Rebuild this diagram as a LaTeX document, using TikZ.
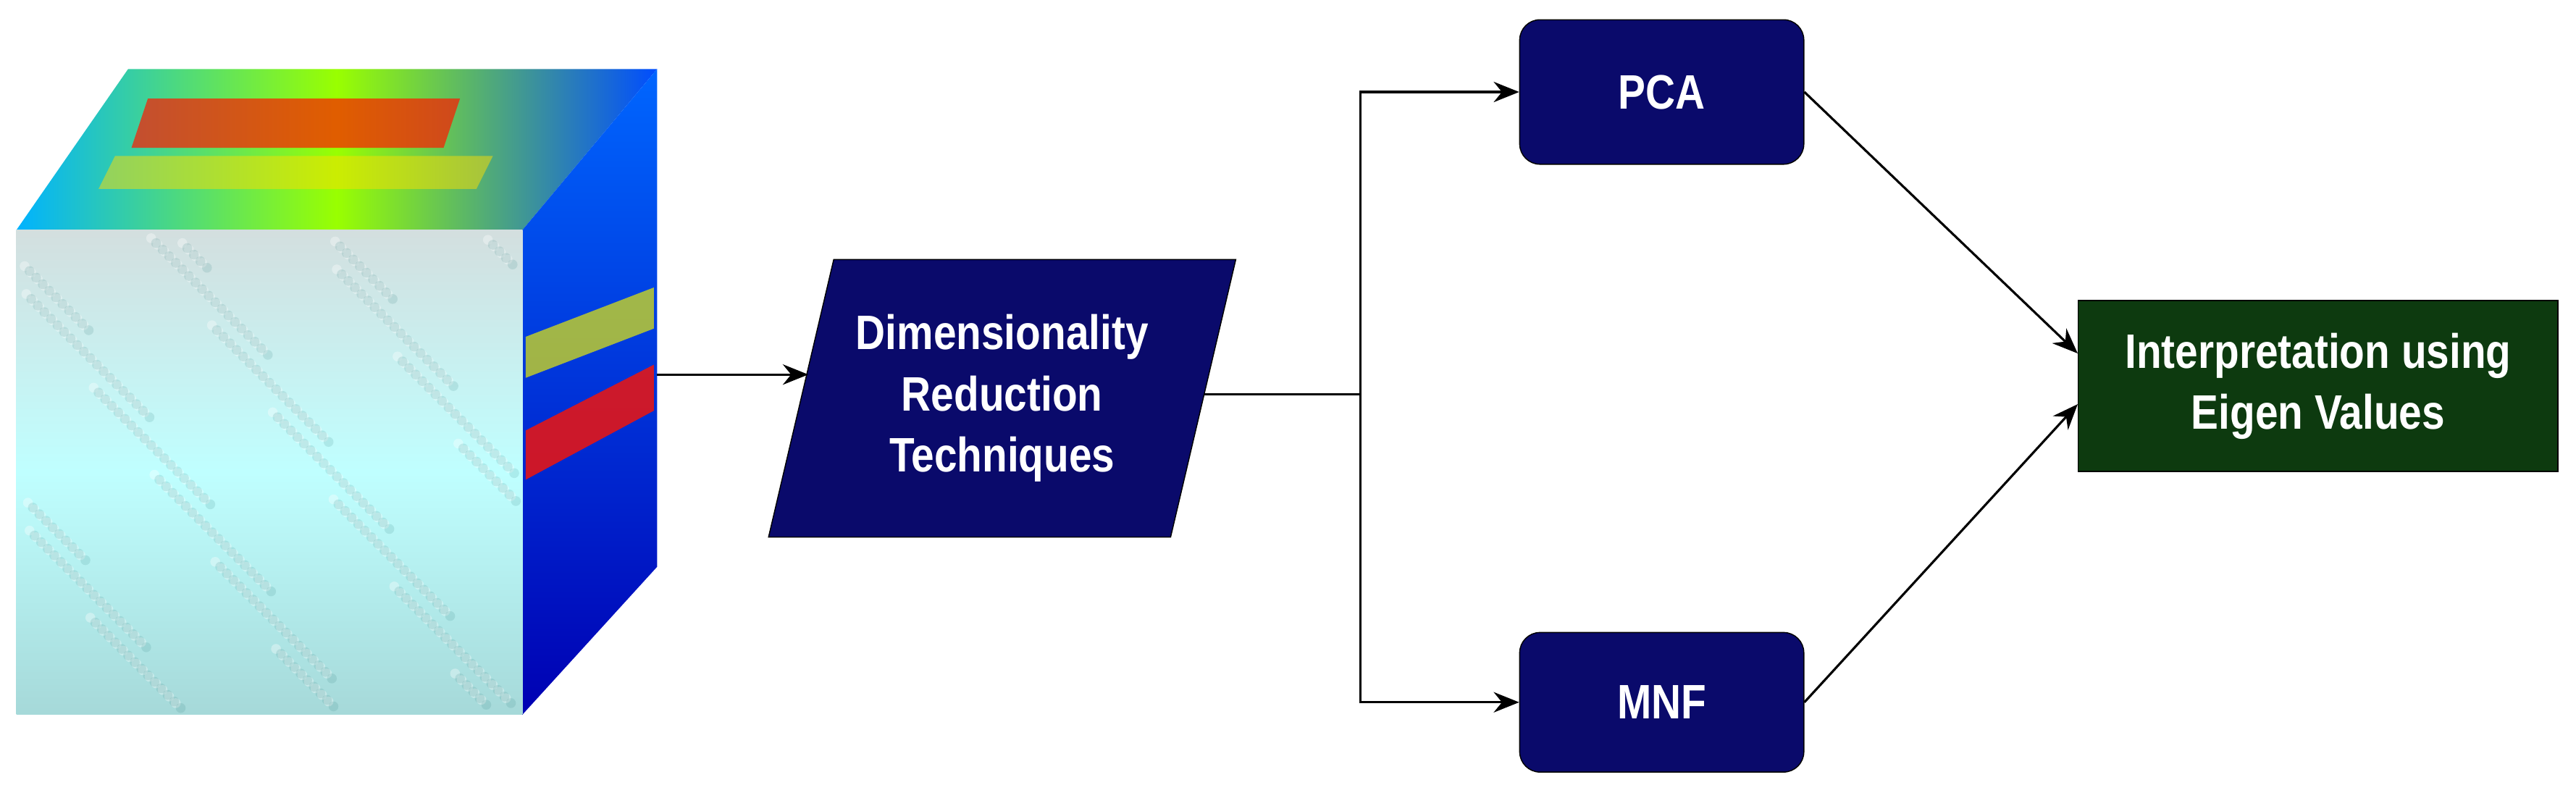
\documentclass[tikz,border=0pt]{standalone}
\usepackage{fontspec}
\setmainfont{Liberation Sans}[FakeStretch=0.85]
\usetikzlibrary{arrows.meta,shapes.geometric}
\definecolor{navy}{HTML}{0A0A6B}
\definecolor{dgreen}{HTML}{0D3A0F}
\begin{document}
\begin{tikzpicture}[x=0.02268cm,y=-0.02268cm,
  txt/.style={text=white,font=\bfseries\fontsize{19}{24}\selectfont,align=center},
  box/.style={draw=black,fill=navy,rounded corners=8pt,txt},
  arr/.style={-{Stealth[length=10pt,width=8pt]},line width=0.9pt},
  ln/.style={line width=0.9pt}]
\useasboundingbox (0,0) rectangle (1568,490.6);
% cube top face
\shade[left color=cyan!70!blue, right color=blue!70!cyan, middle color=yellow!60!green] (10,140) -- (78,42) -- (400,42) -- (318,140) -- cycle;
\fill[red!80!orange,opacity=0.7] (90,60) -- (280,60) -- (270,90) -- (80,90) -- cycle;
\fill[yellow!80!orange,opacity=0.5] (70,95) -- (300,95) -- (290,115) -- (60,115) -- cycle;
% right face
\shade[top color=blue!60!cyan, bottom color=blue!70!black] (318,140) -- (400,42) -- (400,345) -- (318,435) -- cycle;
\fill[yellow!90!green,opacity=0.7] (320,205) -- (398,175) -- (398,200) -- (320,230) -- cycle;
\fill[red!85!orange,opacity=0.8] (320,262) -- (398,222) -- (398,250) -- (320,292) -- cycle;
% front face
\shade[top color=cyan!15!gray!30, bottom color=cyan!40!gray!50, middle color=cyan!25!white] (10,140) rectangle (318,435);
\foreach \i in {1,...,290}{
  \pgfmathsetmacro{\px}{14+mod(\i*37,298)}
  \pgfmathsetmacro{\py}{145+mod(\i*53,284)}
  \fill[white,opacity=0.35] (\px,\py) circle (3);
  \fill[teal!60!gray,opacity=0.15] (\px+3,\py+3) circle (3);
}
% flow
\coordinate (c1) at (400,228);
\coordinate (c2) at (492,228);
\node[trapezium,trapezium stretches=true,trapezium left angle=72,trapezium right angle=108,draw=black,fill=navy,txt,minimum width=285*0.02268cm,minimum height=169*0.02268cm] (dr) at (610,242.5) {Dimensionality\\Reduction\\Techniques};
\draw[arr] (c1) -- (c2);
\node[box,minimum width=173*0.02268cm,minimum height=88*0.02268cm] (pca) at (1011.5,56) {PCA};
\node[box,minimum width=173*0.02268cm,minimum height=85*0.02268cm] (mnf) at (1011.5,427.5) {MNF};
\node[draw=black,fill=dgreen,txt,minimum width=292*0.02268cm,minimum height=104*0.02268cm] (iev) at (1411,235) {Interpretation using\\Eigen Values};
\coordinate (s) at (733,240);
\coordinate (j) at (828,240);
\draw[ln] (s) -- (j);
\draw[arr] (j) |- (pca.west);
\draw[arr] (j) |- (mnf.west);
\draw[arr] (pca.east) -- ([yshift=0.45cm]iev.west);
\draw[arr] (mnf.east) -- ([yshift=-0.25cm]iev.west);
\end{tikzpicture}
\end{document}
